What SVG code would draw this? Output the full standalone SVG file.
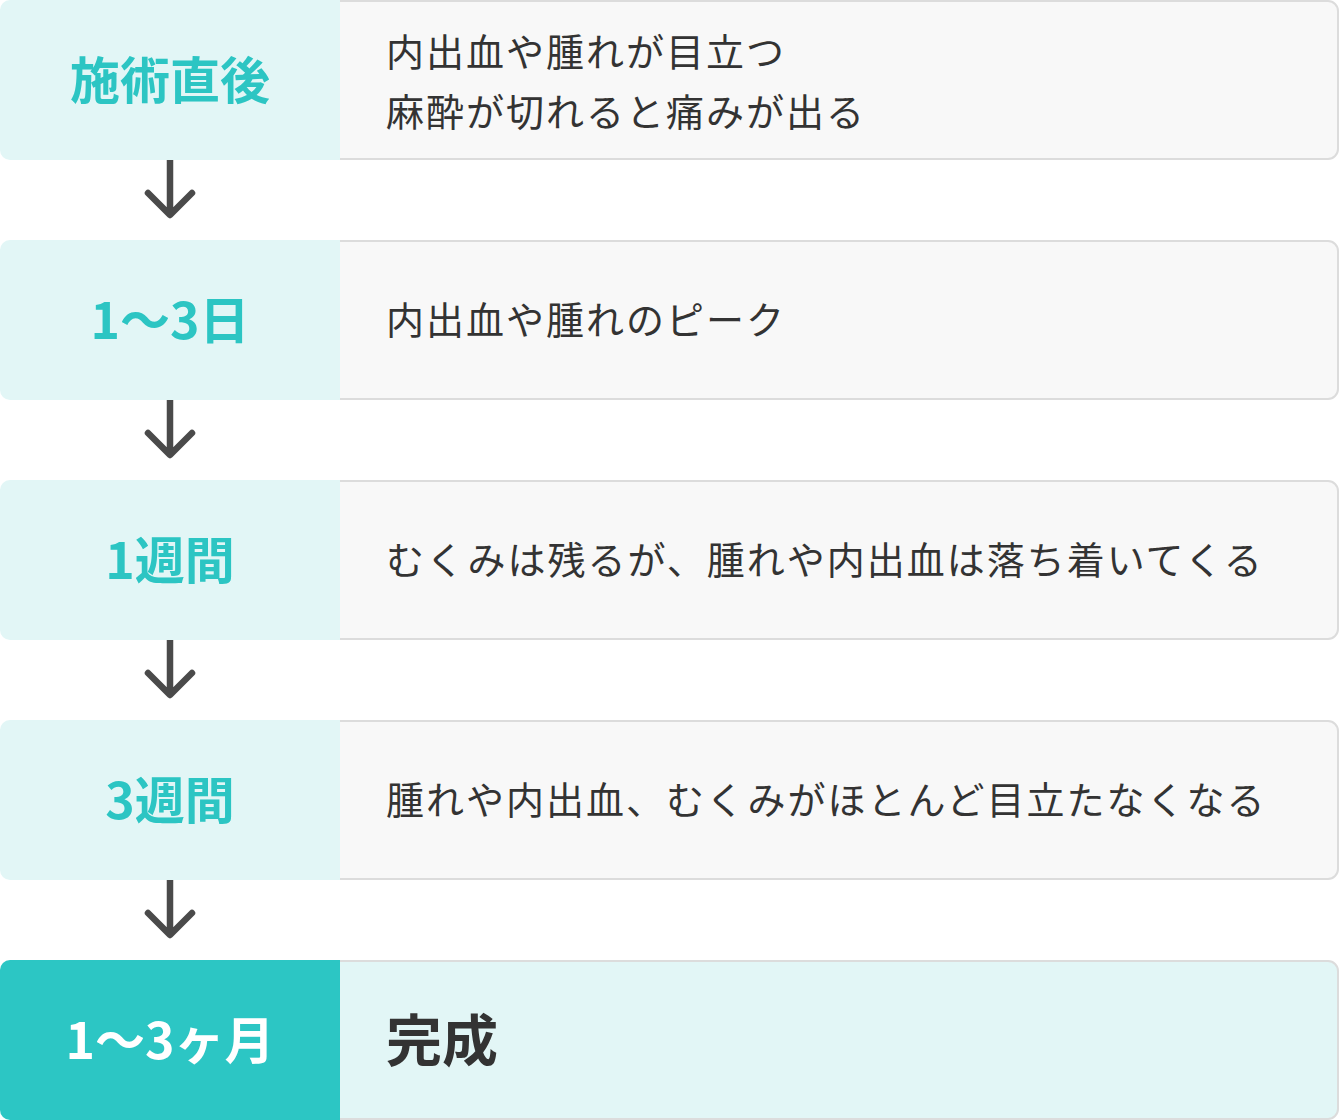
<svg xmlns="http://www.w3.org/2000/svg" width="1340" height="1120" viewBox="0 0 1340 1120">
<style>
.rbox{fill:#f8f8f8;stroke:#dcdcdc;stroke-width:2}
.rbox2{fill:#e2f6f6;stroke:#dcdcdc;stroke-width:2}
.lbox{fill:#e2f6f6}
.lbox2{fill:#2cc6c4}
.lab{font-family:"Noto Sans CJK JP","Noto Sans",sans-serif;font-weight:bold;font-size:50px;fill:#2cc5c3;text-anchor:middle}
.lab2{fill:#ffffff}
.txt{font-family:"Noto Sans CJK JP","Noto Sans",sans-serif;font-size:38px;letter-spacing:2px;fill:#333333}
.big{font-family:"Noto Sans CJK JP","Noto Sans",sans-serif;font-weight:bold;font-size:56px;fill:#333333}
.arr{fill:none;stroke:#4a4a4a;stroke-width:6.5;stroke-linecap:round;stroke-linejoin:round}
</style>
<g id="connectors">
<path class="arr" d="M170 160V214M148 193L170 215L192 193"/>
<path class="arr" d="M170 400V454M148 433L170 455L192 433"/>
<path class="arr" d="M170 640V694M148 673L170 695L192 673"/>
<path class="arr" d="M170 880V934M148 913L170 935L192 913"/>
</g>
<g id="row1">
<rect class="rbox" x="320" y="1" width="1018" height="158" rx="10"/>
<path class="lbox" d="M10 0H340V160H10A10 10 0 0 1 0 150V10A10 10 0 0 1 10 0Z"/>
<text class="lab" x="170" y="99">施術直後</text>
<text class="txt" x="386" y="66">内出血や腫れが目立つ</text>
<text class="txt" x="386" y="126">麻酔が切れると痛みが出る</text>
</g>
<g id="row2">
<rect class="rbox" x="320" y="241" width="1018" height="158" rx="10"/>
<path class="lbox" d="M10 240H340V400H10A10 10 0 0 1 0 390V250A10 10 0 0 1 10 240Z"/>
<text class="lab" x="170" y="339">1〜3日</text>
<text class="txt" x="386" y="334">内出血や腫れのピーク</text>
</g>
<g id="row3">
<rect class="rbox" x="320" y="481" width="1018" height="158" rx="10"/>
<path class="lbox" d="M10 480H340V640H10A10 10 0 0 1 0 630V490A10 10 0 0 1 10 480Z"/>
<text class="lab" x="170" y="579">1週間</text>
<text class="txt" x="386" y="574">むくみは残るが、腫れや内出血は落ち着いてくる</text>
</g>
<g id="row4">
<rect class="rbox" x="320" y="721" width="1018" height="158" rx="10"/>
<path class="lbox" d="M10 720H340V880H10A10 10 0 0 1 0 870V730A10 10 0 0 1 10 720Z"/>
<text class="lab" x="170" y="819">3週間</text>
<text class="txt" x="386" y="814">腫れや内出血、むくみがほとんど目立たなくなる</text>
</g>
<g id="row5">
<rect class="rbox2" x="320" y="961" width="1018" height="158" rx="10"/>
<path class="lbox2" d="M10 960H340V1120H10A10 10 0 0 1 0 1110V970A10 10 0 0 1 10 960Z"/>
<text class="lab lab2" x="170" y="1059">1〜3ヶ月</text>
<text class="big" x="386" y="1061">完成</text>
</g>
</svg>
